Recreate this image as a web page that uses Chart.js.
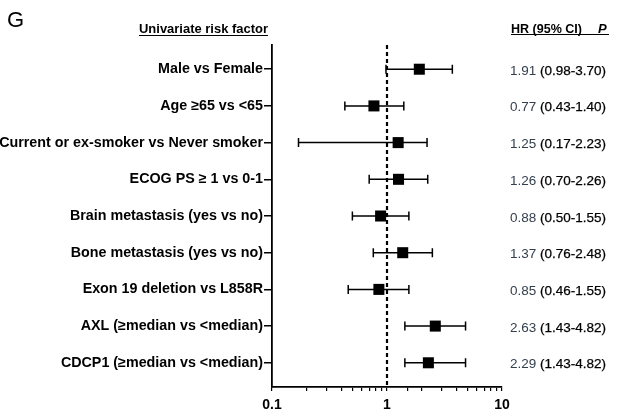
<!DOCTYPE html>
<html>
<head>
<meta charset="utf-8">
<script src="https://cdn.jsdelivr.net/npm/chart.js@4/dist/chart.umd.min.js"></script>
<style>
  html, body { margin: 0; padding: 0; background: #ffffff; }
  #wrap { width: 621px; height: 412px; position: relative; }
</style>
</head>
<body>
<div id="wrap"><canvas id="forest" width="621" height="412"></canvas></div>
<script>
// Univariate hazard ratios with 95% confidence intervals
const categories = [
  'Male vs Female',
  'Age \u226565 vs <65',
  'Current or ex-smoker vs Never smoker',
  'ECOG PS \u2265 1 vs 0-1',
  'Brain metastasis (yes vs no)',
  'Bone metastasis (yes vs no)',
  'Exon 19 deletion vs L858R',
  'AXL (\u2265median vs <median)',
  'CDCP1 (\u2265median vs <median)'
];
const hazardRatio = [1.91, 0.77, 1.25, 1.26, 0.88, 1.37, 0.85, 2.63, 2.29];
const ciLower     = [0.98, 0.43, 0.17, 0.70, 0.50, 0.76, 0.46, 1.43, 1.43];
const ciUpper     = [3.70, 1.40, 2.23, 2.26, 1.55, 2.48, 1.55, 4.82, 4.82];
const xTickLabels = [0.1, 1, 10];

const SANS = '"Liberation Sans", Arial, sans-serif';

const points = hazardRatio.map((v, i) => ({ x: v, y: i }));

// Horizontal whiskers with end caps, plus the reference line at HR = 1
const forestPlugin = {
  id: 'forest',
  beforeDatasetsDraw(chart) {
    const { ctx, chartArea, scales } = chart;
    const x1 = scales.x.getPixelForValue(1);
    ctx.save();
    ctx.strokeStyle = '#000';
    ctx.lineWidth = 2.2;
    ctx.setLineDash([4, 3]);
    ctx.beginPath();
    ctx.moveTo(x1, chartArea.top);
    ctx.lineTo(x1, chartArea.bottom);
    ctx.stroke();
    ctx.setLineDash([]);

    ctx.lineWidth = 1.5;
    for (let i = 0; i < hazardRatio.length; i++) {
      const y = scales.y.getPixelForValue(i);
      const xl = scales.x.getPixelForValue(ciLower[i]);
      const xh = scales.x.getPixelForValue(ciUpper[i]);
      ctx.beginPath();
      ctx.moveTo(xl, y); ctx.lineTo(xh, y);
      ctx.moveTo(xl, y - 4.5); ctx.lineTo(xl, y + 4.5);
      ctx.moveTo(xh, y - 4.5); ctx.lineTo(xh, y + 4.5);
      ctx.stroke();
    }
    ctx.restore();
  },
  afterDraw(chart) {
    const { ctx, scales } = chart;
    ctx.save();
    ctx.fillStyle = '#000';
    ctx.textBaseline = 'alphabetic';

    // Panel letter
    ctx.font = '22px ' + SANS;
    ctx.textAlign = 'left';
    ctx.fillText('G', 7, 27);

    // Column headers
    ctx.font = 'bold 13px ' + SANS;
    ctx.fillText('Univariate risk factor', 139, 32.5, 129);
    ctx.fillText('HR (95% CI)', 511, 32.5, 71);
    ctx.font = 'italic bold 13px ' + SANS;
    ctx.fillText('P', 598, 32.5);
    ctx.strokeStyle = '#000';
    ctx.lineWidth = 1;
    ctx.beginPath();
    ctx.moveTo(139, 35.5); ctx.lineTo(268, 35.5);
    ctx.moveTo(511, 34.5); ctx.lineTo(609, 34.5);
    ctx.stroke();

    // HR (95% CI) values for each row
    ctx.font = '13px ' + SANS;
    for (let i = 0; i < hazardRatio.length; i++) {
      const y = scales.y.getPixelForValue(i) + 5.5;
      const hrText = hazardRatio[i].toFixed(2) + ' ';
      const ciText = '(' + ciLower[i].toFixed(2) + '-' + ciUpper[i].toFixed(2) + ')';
      const wHr = ctx.measureText(hrText).width;
      const wCi = ctx.measureText(ciText).width;
      const sx = 96 / (wHr + wCi);
      ctx.save();
      ctx.translate(510, y);
      ctx.scale(sx, 1);
      ctx.fillStyle = '#34404e';
      ctx.fillText(hrText, 0, 0);
      ctx.fillStyle = '#000';
      ctx.lineWidth = 0.25;
      ctx.strokeStyle = '#000';
      ctx.fillText(ciText, wHr, 0);
      ctx.strokeText(ciText, wHr, 0);
      ctx.restore();
    }
    ctx.restore();
  }
};

new Chart(document.getElementById('forest'), {
  type: 'scatter',
  data: {
    datasets: [{
      data: points,
      pointStyle: 'rect',
      pointRadius: 7.8,
      pointHoverRadius: 7.8,
      backgroundColor: '#000',
      borderColor: '#000',
      borderWidth: 0
    }]
  },
  options: {
    responsive: false,
    animation: false,
    events: [],
    layout: { padding: { left: 0, right: 119, top: 45, bottom: 0 } },
    plugins: { legend: { display: false }, tooltip: { enabled: false } },
    scales: {
      x: {
        type: 'logarithmic',
        min: 0.1,
        max: 10,
        afterFit(scale) { scale.height = 25; },
        grid: {
          drawOnChartArea: false,
          drawTicks: true,
          tickLength: 4,
          color: '#000',
          lineWidth: 1.2
        },
        border: { display: true, color: '#000', width: 1.8 },
        ticks: {
          autoSkip: false,
          maxRotation: 0,
          padding: 6,
          color: '#000',
          font: { family: SANS, size: 14, weight: 'bold' },
          callback(v) {
            const hit = xTickLabels.find(t => Math.abs(Math.log10(v) - Math.log10(t)) < 1e-6);
            return hit === undefined ? '' : String(hit);
          }
        }
      },
      y: {
        type: 'linear',
        reverse: true,
        min: -0.66,
        max: 8.66,
        afterFit(scale) { scale.width = 272; },
        afterBuildTicks(scale) { scale.ticks = categories.map((_, i) => ({ value: i })); },
        grid: {
          drawOnChartArea: false,
          drawTicks: true,
          tickLength: 8,
          color: '#000',
          lineWidth: 1.5
        },
        border: { display: true, color: '#000', width: 1.8 },
        ticks: {
          autoSkip: false,
          padding: 1,
          color: '#000',
          font: { family: SANS, size: 14.3, weight: 'bold' },
          callback(v) { return categories[v]; }
        }
      }
    }
  },
  plugins: [forestPlugin]
});
</script>
</body>
</html>
